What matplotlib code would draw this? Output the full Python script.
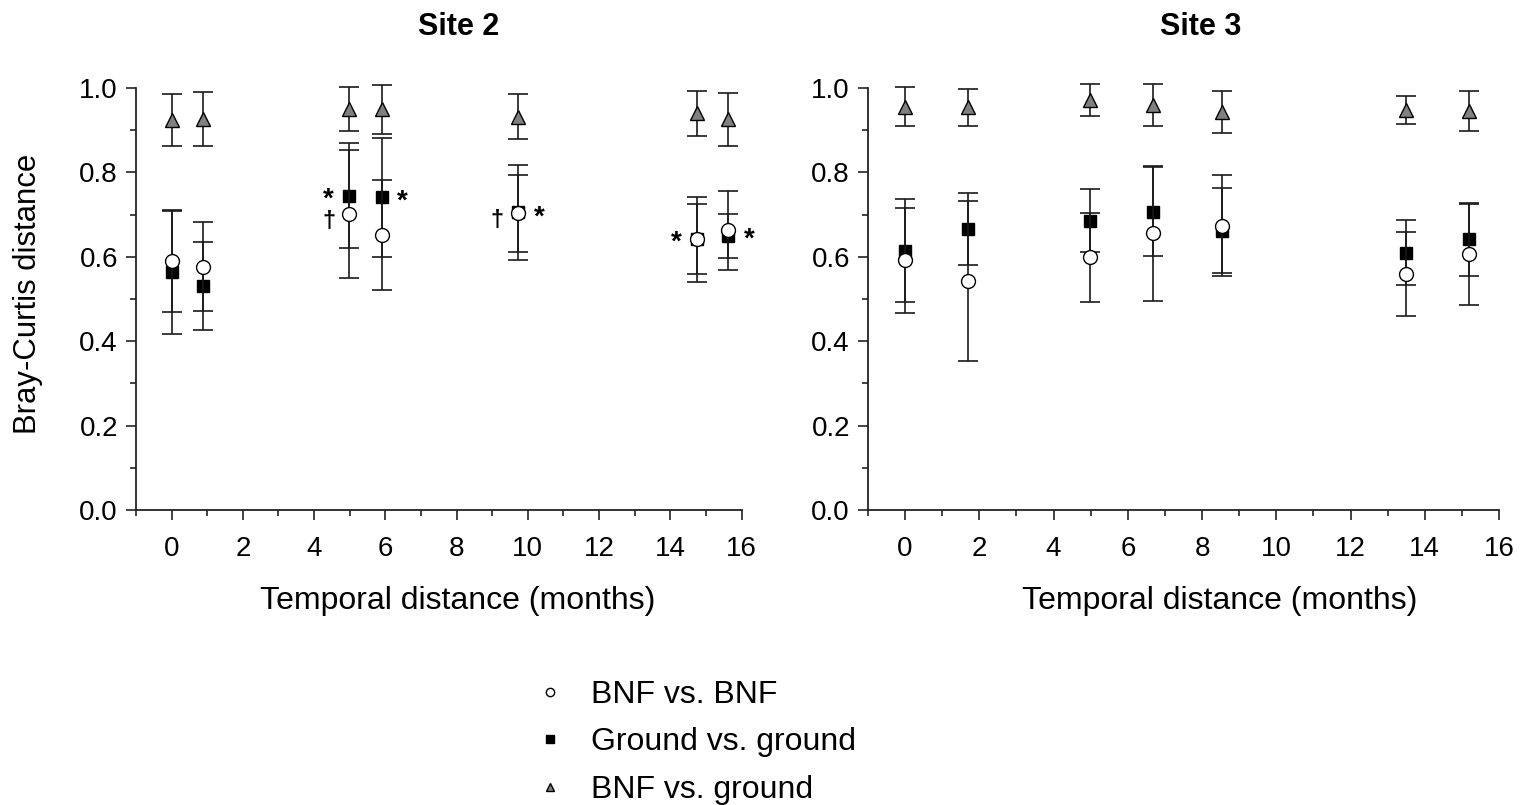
import matplotlib
matplotlib.use("Agg")
import matplotlib.pyplot as plt
from matplotlib.lines import Line2D
from matplotlib.ticker import MultipleLocator

plt.rcParams['font.family'] = ['Liberation Sans', 'DejaVu Sans']

# ---------------- data ----------------
titles = ["Site 2", "Site 3"]
series_labels = ["BNF vs. BNF", "Ground vs. ground", "BNF vs. ground"]

s2_x = [0, 0.88, 4.99, 5.9, 9.73, 14.74, 15.63]
s2_bnf = [0.590, 0.577, 0.701, 0.652, 0.703, 0.643, 0.663]
s2_bnf_err = [0.120, 0.105, 0.152, 0.130, 0.092, 0.083, 0.094]
s2_gnd = [0.563, 0.531, 0.745, 0.741, 0.705, 0.641, 0.650]
s2_gnd_err = [0.145, 0.105, 0.124, 0.141, 0.113, 0.101, 0.052]
s2_cross = [0.924, 0.926, 0.950, 0.950, 0.932, 0.940, 0.926]
s2_cross_err = [0.062, 0.064, 0.053, 0.058, 0.053, 0.054, 0.063]

s3_x = [0, 1.69, 4.97, 6.67, 8.54, 13.5, 15.19]
s3_bnf = [0.592, 0.543, 0.599, 0.656, 0.674, 0.559, 0.606]
s3_bnf_err = [0.124, 0.190, 0.105, 0.160, 0.120, 0.099, 0.120]
s3_gnd = [0.614, 0.665, 0.686, 0.707, 0.662, 0.610, 0.641]
s3_gnd_err = [0.122, 0.085, 0.075, 0.105, 0.100, 0.077, 0.086]
s3_cross = [0.956, 0.954, 0.972, 0.960, 0.944, 0.948, 0.946]
s3_cross_err = [0.047, 0.043, 0.038, 0.050, 0.050, 0.034, 0.048]

# significance marks for Site 2: (point index, series, side, symbol)
s2_marks = [
    (2, "gnd", "left", "*"),
    (2, "bnf", "left", "\u2020"),
    (3, "gnd", "right", "*"),
    (4, "bnf", "left", "\u2020"),
    (4, "bnf", "right", "*"),
    (5, "bnf", "left", "*"),
    (6, "gnd", "right", "*"),
]

xticks = [0, 2, 4, 6, 8, 10, 12, 14, 16]
yticks = [0.0, 0.2, 0.4, 0.6, 0.8, 1.0]

# ---------------- figure ----------------
W, H = 1522, 805
fig = plt.figure(figsize=(W / 100, H / 100), dpi=100)

def frac_box(l, r, t, b):
    return [l / W, 1 - b / H, (r - l) / W, (b - t) / H]

ax1 = fig.add_axes(frac_box(136, 741.5, 88, 510))
ax2 = fig.add_axes(frac_box(868, 1499, 88, 510))

styles = {
    "cross": dict(marker="^", mfc="#808080", mec="black", ms=10, mew=1.0),
    "gnd": dict(marker="s", mfc="black", mec="black", ms=9, mew=1.0),
    "bnf": dict(marker="o", mfc="white", mec="black", ms=10, mew=1.0),
}

def draw(ax, x, bnf, bnf_e, gnd, gnd_e, cross, cross_e, title, title_x, xlabel_x):
    for key, y, e, z in [("cross", cross, cross_e, 3), ("gnd", gnd, gnd_e, 4), ("bnf", bnf, bnf_e, 5)]:
        eb = ax.errorbar(x, y, yerr=e, fmt="none", ecolor="#1a1a1a", elinewidth=1.2,
                         capsize=7, capthick=1.2, zorder=z - 0.5)
        for art in eb.get_children():
            art.set_clip_on(False)
        ax.plot(x, y, ls="none", zorder=z, clip_on=False, **styles[key])
    ax.set_xlim(-1, 16)
    ax.set_ylim(0, 1.0)
    ax.set_xticks(xticks)
    ax.set_yticks(yticks)
    ax.xaxis.set_minor_locator(MultipleLocator(1))
    ax.yaxis.set_minor_locator(MultipleLocator(0.1))
    ax.set_yticklabels([f"{v:.1f}" for v in yticks])
    ax.spines["top"].set_visible(False)
    ax.spines["right"].set_visible(False)
    for s in ("left", "bottom"):
        ax.spines[s].set_linewidth(1.3)
        ax.spines[s].set_color("#222222")
    ax.tick_params(which="major", direction="out", length=7, width=1.2,
                   labelsize=20, color="#222222")
    ax.tick_params(axis="x", which="major", pad=12)
    ax.tick_params(axis="y", which="major", pad=6)
    ax.tick_params(which="minor", direction="out", length=4, width=1.2, color="#222222")
    ax.set_xlabel("Temporal distance (months)", fontsize=23)
    ax.xaxis.set_label_coords(xlabel_x, -0.181)
    ax.set_title(title, fontsize=22, fontweight="bold", pad=38, x=title_x)
    ax.patch.set_visible(False)

draw(ax1, s2_x, s2_bnf, s2_bnf_err, s2_gnd, s2_gnd_err, s2_cross, s2_cross_err,
     titles[0], 0.532, 0.532)
draw(ax2, s3_x, s3_bnf, s3_bnf_err, s3_gnd, s3_gnd_err, s3_cross, s3_cross_err,
     titles[1], 0.528, 0.558)
ax1.set_ylabel("Bray-Curtis distance", fontsize=22.4)
ax1.yaxis.set_label_coords(-0.154, 0.512)

vals = {"bnf": s2_bnf, "gnd": s2_gnd}
for idx, ser, side, sym in s2_marks:
    dx = -15 if side == "left" else 15
    dy = -3 if sym == "*" else -5
    ax1.annotate(sym, (s2_x[idx], vals[ser][idx]), xytext=(dx, dy), textcoords="offset points",
                 ha="center", va="center", fontsize=20 if sym == "*" else 17,
                 fontweight="bold", zorder=6)

handles = [
    Line2D([], [], ls="none", marker="o", mfc="white", mec="black", ms=6, mew=1.0),
    Line2D([], [], ls="none", marker="s", mfc="black", mec="black", ms=6, mew=1.0),
    Line2D([], [], ls="none", marker="^", mfc="#808080", mec="black", ms=6, mew=1.0),
]
fig.legend(handles, series_labels, loc="upper left", bbox_to_anchor=(524 / W, 1 - 667 / H),
           frameon=False, fontsize=23, labelspacing=0.55, handlelength=0.8,
           handletextpad=0.9, borderaxespad=0)

fig.savefig("out.png", dpi=100)
